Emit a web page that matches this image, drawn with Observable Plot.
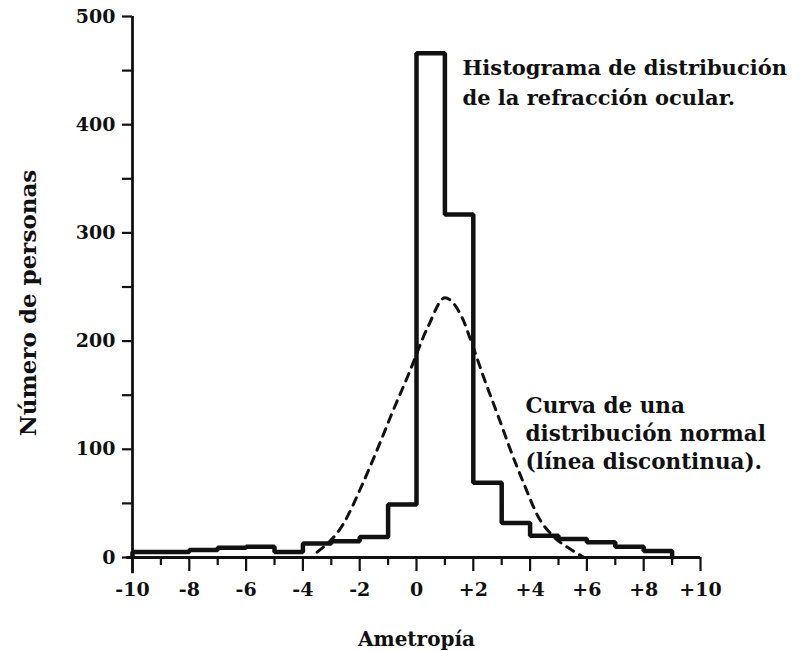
<!DOCTYPE html>
<html>
<head>
<meta charset="utf-8">
<script src="https://cdn.jsdelivr.net/npm/d3@7"></script>
<script src="https://cdn.jsdelivr.net/npm/@observablehq/plot@0.6"></script>
<style>
  html, body { margin: 0; padding: 0; background: #fff; }
  #chart { width: 800px; height: 651px; }
</style>
</head>
<body>
<div id="chart"></div>
<script>
// Histogram: bin start (diopters) and number of persons per bin (width 1)
const binStarts = [-10, -9, -8, -7, -6, -5, -4, -3, -2, -1, 0, 1, 2, 3, 4, 5, 6, 7, 8];
const counts    = [5, 5, 7, 9, 10, 5, 13, 15, 19, 49, 466, 317, 69, 32, 20, 17, 14, 10, 6];
const binEnd = 9;

// Dashed normal curve
const curveX = [-3.5, -2.6, -1.9, -1.3, -0.9, -0.3, 0.4, 1.0, 1.6, 2.0, 2.4, 2.9, 3.3, 3.8, 4.3, 4.8, 5.4, 5.9];
const curveY = [5, 30, 68, 105, 131, 168, 213, 240, 222, 194, 164, 129, 100, 67, 37, 20, 8, 0];

// Axis ticks
const xTicksMajor = [-10, -8, -6, -4, -2, 0, 2, 4, 6, 8, 10];
const xTicksMinor = [-9, -7, -5, -3, -1, 1, 3, 5, 7, 9];
const yTicksMajor = [0, 100, 200, 300, 400, 500];
const yTicksMinor = [50, 150, 250, 350, 450];

// Texts
const xLabel = "Ametropía";
const yLabel = "Número de personas";
const histNote = ["Histograma de distribución", "de la refracción ocular."];
const curveNote = ["Curva de una", "distribución normal", "(línea discontinua)."];

const histPts = [{x: binStarts[0], y: 0}]
  .concat(binStarts.map((b, i) => ({x: b, y: counts[i]})))
  .concat([{x: binEnd, y: counts[counts.length - 1]}, {x: binEnd, y: 0}]);
const curvePts = curveX.map((x, i) => ({x, y: curveY[i]}));

const fmtX = d => d > 0 ? "+" + d : String(d);
const blank = () => "";

const font = "DejaVu Serif";
const chart = Plot.plot({
  width: 800,
  height: 651,
  marginLeft: 132,
  marginRight: 100,
  marginTop: 16,
  marginBottom: 94,
  style: {fontFamily: font, fontWeight: "bold", color: "#111", background: "#fff"},
  x: {domain: [-10, 10]},
  y: {domain: [0, 500]},
  marks: [
    Plot.axisX({ticks: xTicksMinor, tickSize: 8, tickFormat: blank, strokeWidth: 2.2, label: null}),
    Plot.axisX({ticks: xTicksMajor, tickSize: 14, tickPadding: 11, tickFormat: fmtX, strokeWidth: 2.2, fontSize: 19, label: null}),
    Plot.axisY({ticks: yTicksMinor, tickSize: 10, tickFormat: blank, strokeWidth: 2.2, label: null}),
    Plot.axisY({ticks: yTicksMajor, tickSize: 10, tickPadding: 7, strokeWidth: 2.2, fontSize: 19, label: null}),
    Plot.ruleY([0], {x1: -10.2, x2: 10, strokeWidth: 2.8}),
    Plot.ruleX([-10], {y1: -15, y2: 500, strokeWidth: 2.8}),
    Plot.line(curvePts, {x: "x", y: "y", curve: "monotone-x", stroke: "#111", strokeWidth: 3, strokeDasharray: "8,7"}),
    Plot.line(histPts, {x: "x", y: "y", curve: "step-after", stroke: "#111", strokeWidth: 4.5, strokeLinejoin: "miter"}),
    Plot.text([histNote.join("\n")], {x: 1.62, y: 466, textAnchor: "start", lineAnchor: "top", lineHeight: 1.45, fontSize: 21, fill: "#111"}),
    Plot.text([curveNote.join("\n")], {x: 3.84, y: 152, textAnchor: "start", lineAnchor: "top", lineHeight: 1.3, fontSize: 21.5, fill: "#111"}),
    Plot.text([xLabel], {frameAnchor: "bottom", dy: 88, lineAnchor: "bottom", fontSize: 20, fill: "#111"}),
    Plot.text([yLabel], {frameAnchor: "left", textAnchor: "middle", dx: -104, dy: 16, rotate: -90, fontSize: 23, fill: "#111"})
  ]
});
document.getElementById("chart").appendChild(chart);
</script>
</body>
</html>
